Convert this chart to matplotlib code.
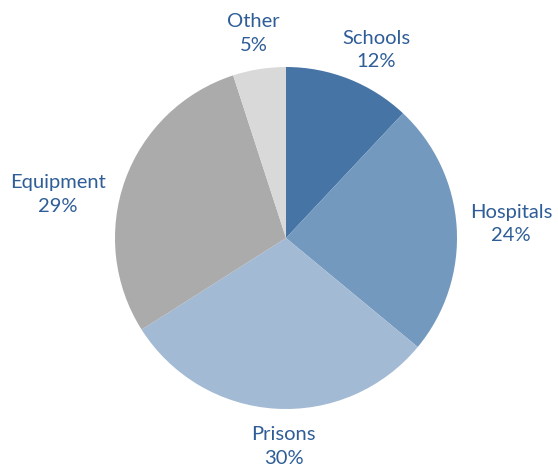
import numpy as np
import matplotlib.pyplot as plt

categories = ["Schools", "Hospitals", "Prisons", "Equipment", "Other"]
shares = [12, 24, 30, 29, 5]
colors = ["#4674A5", "#7399BF", "#A3BAD4", "#ABABAB", "#D9D9D9"]

# label placement (distance in radii, extra angle in degrees)
label_dist = [1.22, 1.32, 1.22, 1.36, 1.21]
label_shift = [-4, 0, 3, 9, 0]

plt.rcParams['font.family'] = ['Lato', 'DejaVu Sans']

fig = plt.figure(figsize=(5.58, 4.75), dpi=100)
ax = fig.add_axes([0, 0, 1, 1])

R = 171.0
cx, cy = 286.0, 475 - 238.0
wedges, _ = ax.pie(shares, colors=colors, startangle=90, counterclock=False,
                   radius=1.0, wedgeprops=dict(linewidth=0))

for w, cat, val, d, s in zip(wedges, categories, shares, label_dist, label_shift):
    ang = np.deg2rad((w.theta1 + w.theta2) / 2 + s)
    ax.text(d * np.cos(ang), d * np.sin(ang), f"{cat}\n{val}%",
            ha="center", va="center", fontsize=14.5, color="#2E5D97",
            linespacing=1.45)

ax.set_xlim(-cx / R, (558 - cx) / R)
ax.set_ylim(-cy / R, (475 - cy) / R)
ax.set_aspect("auto")
ax.axis("off")

fig.savefig("out.png", dpi=100)
